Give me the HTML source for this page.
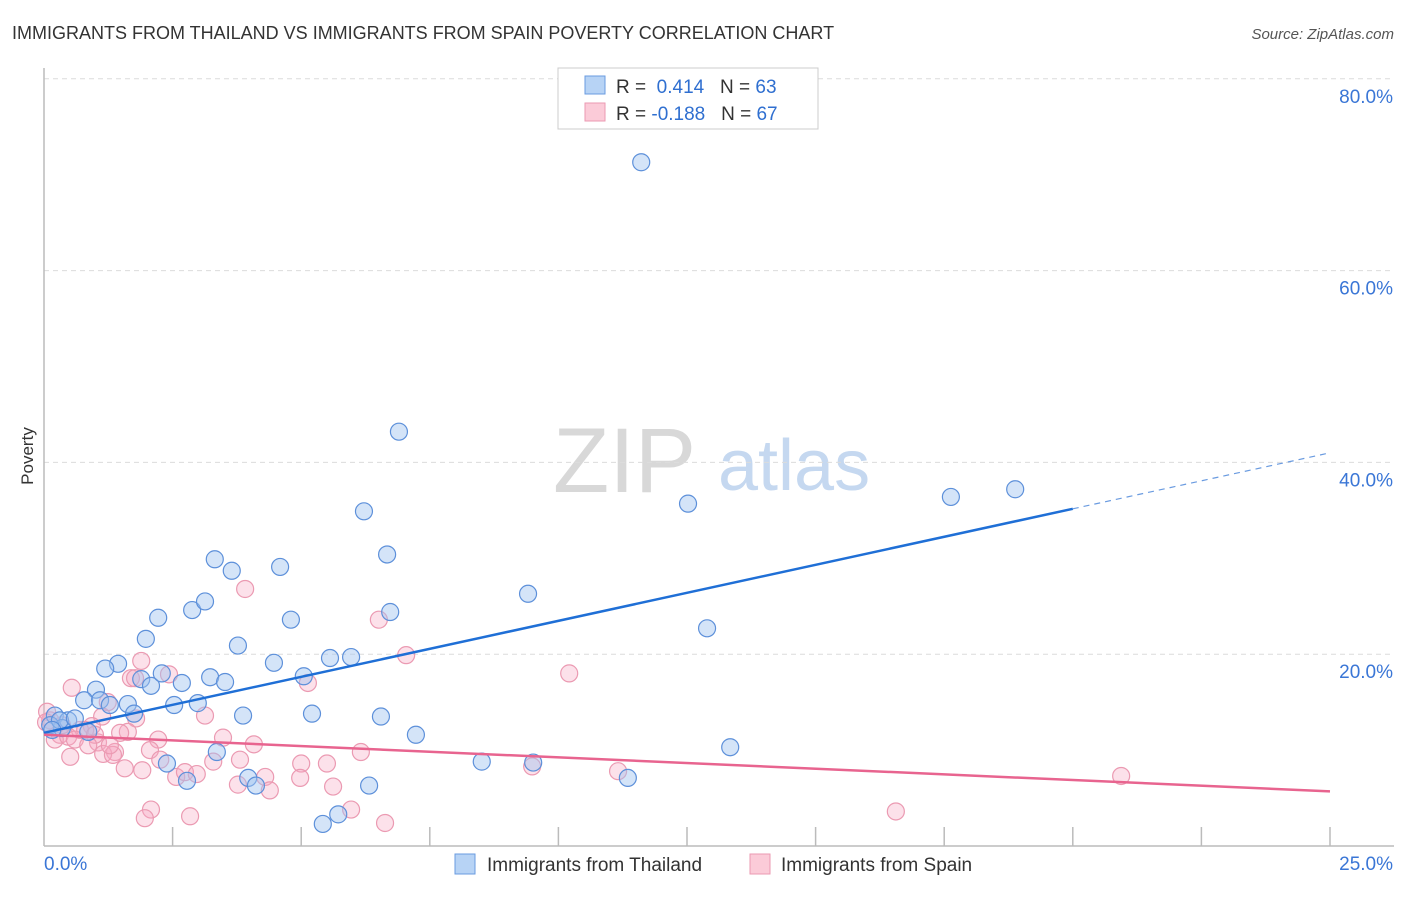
<!DOCTYPE html>
<html><head><meta charset="utf-8"><style>
body{margin:0;background:#fff;font-family:"Liberation Sans",sans-serif;}
svg text{font-family:"Liberation Sans",sans-serif;}
</style></head><body>
<svg id="chart" width="1406" height="892" xmlns="http://www.w3.org/2000/svg">
<text x="12" y="39" font-size="18" fill="#333">IMMIGRANTS FROM THAILAND VS IMMIGRANTS FROM SPAIN POVERTY CORRELATION CHART</text>
<text x="1394" y="39" font-size="15" fill="#555" font-style="italic" text-anchor="end">Source: ZipAtlas.com</text>
<g>
<text x="553" y="492" font-size="92" fill="#d8d8d8" font-family="Liberation Serif,serif">ZIP</text>
<text x="718" y="490" font-size="72" fill="#c5d8f0">atlas</text>
</g>
<g id="grid"></g>
<g id="axes"></g>
<g id="marks"></g>
<text transform="translate(33,456) rotate(-90)" font-size="17" fill="#333" text-anchor="middle">Poverty</text>
<g>
<rect x="558" y="68" width="260" height="61" fill="#fff" stroke="#ccc"/>
<rect x="585" y="76" width="20" height="18" fill="#b7d3f5" stroke="#6a9be0"/>
<rect x="585" y="103" width="20" height="18" fill="#fbcbd8" stroke="#eb9ab2"/>
<text x="616" y="93" font-size="19" fill="#333">R = <tspan fill="#2f6fd0">&#160;0.414</tspan>&#160;&#160;&#160;N = <tspan fill="#2f6fd0">63</tspan></text>
<text x="616" y="120" font-size="19" fill="#333">R = <tspan fill="#2f6fd0">-0.188</tspan>&#160;&#160;&#160;N = <tspan fill="#2f6fd0">67</tspan></text>
</g>
<g>
<rect x="455" y="854" width="20" height="20" fill="#b7d3f5" stroke="#6a9be0"/>
<text x="487" y="871" font-size="19" fill="#333">Immigrants from Thailand</text>
<rect x="750" y="854" width="20" height="20" fill="#fbcbd8" stroke="#eb9ab2"/>
<text x="781" y="871" font-size="19" fill="#333">Immigrants from Spain</text>
</g>
</svg>
<script>
const xTicks=[0,25];
const xTickLabels=["0.0%","25.0%"];
const yTicks=[20,40,60,80];
const yTickLabels=["20.0%","40.0%","60.0%","80.0%"];
const thaiX=[11.61,6.90,6.22,6.67,12.52,17.63,18.88,3.32,3.65,4.59,9.41,6.73,2.22,2.88,3.13,4.80,1.98,3.77,12.89,4.47,5.56,5.97,1.44,1.19,1.89,2.08,2.29,2.68,3.23,3.52,5.05,1.01,0.78,1.63,1.09,2.53,2.99,1.75,3.87,5.21,6.55,7.23,13.34,0.21,0.47,0.35,0.12,3.36,2.39,8.51,9.51,11.35,3.97,4.12,6.32,2.78,5.42,5.72,0.86,0.31,0.60,0.16,1.28];
const thaiY=[71.3,43.2,34.9,30.4,35.7,36.4,37.2,29.9,28.7,29.1,26.3,24.4,23.8,24.6,25.5,23.6,21.6,20.9,22.7,19.1,19.6,19.7,19.0,18.5,17.4,16.7,18.0,17.0,17.6,17.1,17.7,16.3,15.2,14.8,15.2,14.7,14.9,13.8,13.6,13.8,13.5,11.6,10.3,13.6,13.1,12.3,12.6,9.8,8.6,8.8,8.7,7.1,7.1,6.3,6.3,6.8,2.3,3.3,11.9,13.1,13.3,12.1,14.7];
const spainX=[3.91,6.51,7.04,10.21,1.89,1.69,1.77,2.43,5.13,0.54,1.24,3.13,1.13,1.79,1.63,0.93,0.70,0.31,0.12,0.06,0.21,0.47,1.05,1.48,2.22,3.48,4.08,2.06,1.38,1.15,1.34,0.51,6.16,1.57,1.91,2.57,2.74,3.29,2.97,4.30,3.77,4.39,5.00,5.50,4.98,5.62,9.49,11.16,20.94,2.08,1.96,2.84,5.97,6.63,16.56,0.80,0.99,0.35,0.60,0.86,1.28,0.04,2.26,3.81];
const spainY=[26.8,23.6,19.9,18.0,19.3,17.5,17.5,17.9,17.0,16.5,15.0,13.6,13.5,13.3,11.9,12.5,12.1,11.6,13.1,14.0,11.1,11.4,10.8,11.8,11.1,11.3,10.6,10.0,9.8,9.6,9.5,9.3,9.8,8.1,7.9,7.2,7.7,8.8,7.5,7.2,6.4,5.8,8.6,8.6,7.1,6.2,8.3,7.8,7.3,3.8,2.9,3.1,3.8,2.4,3.6,12.1,11.6,12.6,11.1,10.5,10.5,12.9,9.0,9.0];
const thaiTrend=[11.8,41.0];
const thaiSolidEnd=20.0;
const spainTrend=[11.6,5.7];
const X0=44,X1=1330,Y0=846,YPX=9.59;
const sx=v=>X0+(v-0)/25*(X1-X0);
const sy=v=>Y0-v*YPX;
const NS="http://www.w3.org/2000/svg";
function mk(parent,tag,attrs){const e=document.createElementNS(NS,tag);for(const k in attrs)e.setAttribute(k,attrs[k]);document.getElementById(parent).appendChild(e);return e;}
yTicks.forEach((t,i)=>{
 const g=mk('grid','line',{x1:44,x2:1394,y1:sy(t),y2:sy(t),stroke:'#dcdcdc','stroke-dasharray':'5,4'});
 
 
 const l=mk('grid','text',{x:1393,y:sy(t)+24,'font-size':19,fill:'#3a76d6','text-anchor':'end'});
 l.textContent=yTickLabels[i];
 
 
});
const ax=mk('axes','line',{x1:44,x2:44,y1:68,y2:846,stroke:'#bbb','stroke-width':1.5});


const bx=mk('axes','line',{x1:44,x2:1394,y1:846,y2:846,stroke:'#bbb','stroke-width':1.5});


for(let i=1;i<=10;i++){const v=i*2.5;const t=mk('axes','line',{x1:sx(v),x2:sx(v),y1:827,y2:846,stroke:'#bbb','stroke-width':1.5});
 
 }
xTicks.forEach((t,i)=>{const l=mk('axes','text',{x:i==0?44:1393,y:870,'font-size':19,fill:'#3a76d6','text-anchor':i==0?'start':'end'});
 l.textContent=xTickLabels[i];
 
 });
spainX.forEach((x,i)=>{const c=mk('marks','circle',{cx:sx(x),cy:sy(spainY[i]),r:8.5,fill:'rgba(247,170,195,0.35)',stroke:'#eb9ab2','stroke-width':1.2});
 
 });
thaiX.forEach((x,i)=>{const c=mk('marks','circle',{cx:sx(x),cy:sy(thaiY[i]),r:8.5,fill:'rgba(160,196,240,0.45)',stroke:'#5d90da','stroke-width':1.2});
 
 });
const tY=v=>thaiTrend[0]+(thaiTrend[1]-thaiTrend[0])*v/25;
const l1=mk('marks','line',{x1:sx(0),y1:sy(tY(0)),x2:sx(thaiSolidEnd),y2:sy(tY(thaiSolidEnd)),stroke:'#1f6fd6','stroke-width':2.5});


const l2=mk('marks','line',{x1:sx(thaiSolidEnd),y1:sy(tY(thaiSolidEnd)),x2:sx(25),y2:sy(tY(25)),stroke:'#6a9be0','stroke-width':1.2,'stroke-dasharray':'6,5'});


const l3=mk('marks','line',{x1:sx(0),y1:sy(spainTrend[0]),x2:sx(25),y2:sy(spainTrend[1]),stroke:'#e8648f','stroke-width':2.5});


</script>
</body></html>
